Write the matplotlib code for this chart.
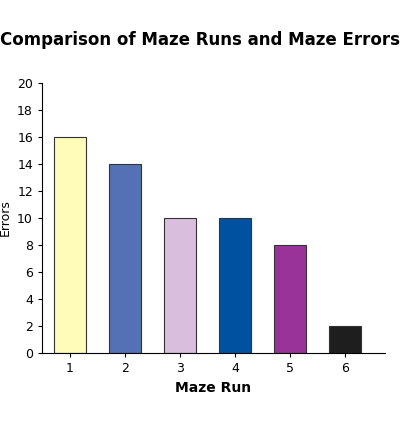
import matplotlib
matplotlib.use("Agg")
import matplotlib.pyplot as plt

runs = [1, 2, 3, 4, 5, 6]
errors = [16, 14, 10, 10, 8, 2]
colors = ["#FFFBB8", "#5571B5", "#D9BEDD", "#0052A0", "#993399", "#1E1E1E"]

fig = plt.figure(figsize=(4, 4.23), dpi=100)
ax = fig.add_axes([0.105, 0.1655, 0.8575, 0.6385])
ax.bar(runs, errors, width=0.58, color=colors, edgecolor="#333333", linewidth=0.8)
ax.set_xlim(0.49, 6.73)
ax.set_ylim(0, 20)
ax.set_yticks(range(0, 21, 2))
ax.set_xticks(runs)
ax.tick_params(labelsize=9, length=3)
for s in ["top", "right"]:
    ax.spines[s].set_visible(False)
ax.set_ylabel("Errors", fontsize=9)
ax.set_xlabel("Maze Run", fontsize=10, fontweight="bold")
fig.text(0.5, 0.905, "Comparison of Maze Runs and Maze Errors", ha="center", va="center",
         fontsize=12, fontweight="bold")
fig.savefig("out.png", dpi=100)
